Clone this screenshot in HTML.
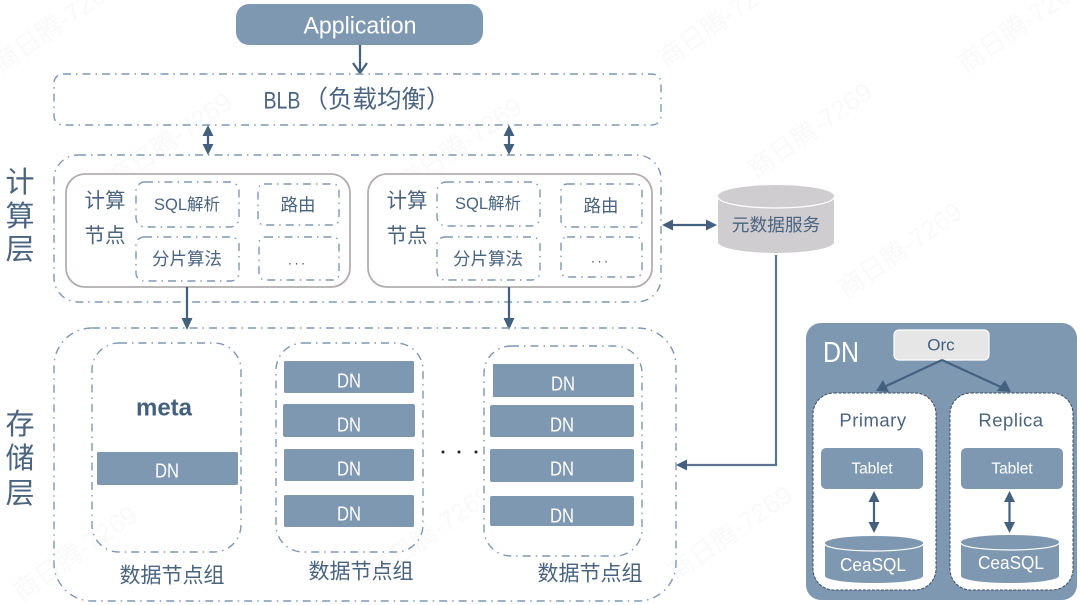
<!DOCTYPE html>
<html><head><meta charset="utf-8">
<style>
html,body{margin:0;padding:0;background:#fff;}
svg{display:block;filter:blur(0.35px);}
text{font-family:"Liberation Sans","Noto Sans CJK SC",sans-serif;text-anchor:middle;dominant-baseline:central;fill:#4a6480;}
.w{fill:#fff;}
.dd{fill:none;stroke:#7f98b2;stroke-width:1.4;stroke-dasharray:8 5 1.5 5;}
.ln{stroke:#44607f;stroke-width:2.2;fill:none;}
.h{fill:#44607f;}
.b{fill:#7f98b2;}
.wm{fill:#f9f9f9;font-size:26px;}
</style></head><body>
<svg width="1080" height="605" viewBox="0 0 1080 605" xmlns="http://www.w3.org/2000/svg">
<rect width="1080" height="605" fill="#fff"/>
<!-- watermarks -->
<text class="wm" transform="translate(55,25) rotate(-35)">商日腾-7269</text>
<text class="wm" transform="translate(720,20) rotate(-35)">商日腾-7269</text>
<text class="wm" transform="translate(1020,25) rotate(-35)">商日腾-7269</text>
<text class="wm" transform="translate(810,130) rotate(-35)">商日腾-7269</text>
<text class="wm" transform="translate(900,250) rotate(-35)">商日腾-7269</text>
<text class="wm" transform="translate(170,140) rotate(-35)">商日腾-7269</text>
<text class="wm" transform="translate(460,145) rotate(-35)">商日腾-7269</text>
<text class="wm" transform="translate(75,553) rotate(-35)">商日腾-7269</text>
<text class="wm" transform="translate(430,533) rotate(-35)">商日腾-7269</text>
<text class="wm" transform="translate(730,533) rotate(-35)">商日腾-7269</text>

<!-- Application -->
<rect x="236" y="4" width="247" height="41" rx="13" class="b"/>
<text x="360" y="26" class="w" font-size="24" textLength="113" lengthAdjust="spacingAndGlyphs">Application</text>
<path class="ln" d="M360 45V73M353 63L360 73L367 63" stroke-width="1.6"/>

<!-- BLB -->
<rect x="54" y="74" width="607" height="51" rx="9" class="dd"/>
<text x="282" y="101" font-size="24" textLength="37" lengthAdjust="spacingAndGlyphs">BLB</text>
<text x="377" y="100" font-size="24.500">（负载均衡）</text>

<!-- BLB to compute arrows -->
<path class="ln" d="M208 133V148M509 133V148"/>
<path class="h" d="M208 125L213.500 136H202.500ZM208 155L213.500 144H202.500ZM509 125L514.500 136H503.500ZM509 155L514.500 144H503.500Z"/>

<!-- compute layer -->
<rect x="54" y="155" width="607" height="147" rx="24" class="dd"/>
<text x="20" y="183" font-size="29">计</text>
<text x="20" y="217" font-size="29">算</text>
<text x="20" y="250" font-size="29">层</text>

<rect x="66" y="174" width="284" height="113" rx="19" fill="#fff" stroke="#b3aeae" stroke-width="1.8"/>
<rect x="368" y="174" width="284" height="113" rx="19" fill="#fff" stroke="#b3aeae" stroke-width="1.8"/>

<text x="105" y="201" font-size="20.500">计算</text>
<text x="105" y="236" font-size="20.500">节点</text>
<rect x="136" y="182" width="103" height="45" rx="9" class="dd"/>
<rect x="258" y="184" width="81" height="41" rx="6" class="dd"/>
<rect x="136" y="237" width="103" height="44" rx="8" class="dd"/>
<rect x="259" y="237" width="80" height="43" rx="6" class="dd"/>
<text x="187" y="205" font-size="16.500">SQL解析</text>
<text x="298" y="205" font-size="17.500">路由</text>
<text x="187" y="259" font-size="17.500">分片算法</text>
<text x="298" y="260" font-size="13" style="fill:#444" letter-spacing="3">...</text>

<text x="407" y="201" font-size="20.500">计算</text>
<text x="407" y="236" font-size="20.500">节点</text>
<rect x="437" y="182" width="103" height="44" rx="9" class="dd"/>
<rect x="561" y="184" width="81" height="43" rx="6" class="dd"/>
<rect x="437" y="237" width="103" height="43" rx="8" class="dd"/>
<rect x="561" y="237" width="81" height="40" rx="6" class="dd"/>
<text x="488" y="204" font-size="16.500">SQL解析</text>
<text x="601" y="206" font-size="17.500">路由</text>
<text x="488" y="259" font-size="17.500">分片算法</text>
<text x="601" y="258" font-size="13" style="fill:#444" letter-spacing="3">...</text>

<!-- compute to storage arrows -->
<path class="ln" d="M187 287V320M509 287V320"/>
<path class="h" d="M187 330L181.500 318H192.500ZM509 330L503.500 318H514.500Z"/>

<!-- metadata cylinder -->
<path d="M718 196V242A58 11 0 0 0 834 242V196Z" fill="#cfcdcf"/>
<ellipse cx="776" cy="196" rx="58" ry="11" fill="#cfcdcf"/>
<path d="M718 197A58 11 0 0 0 834 197" fill="none" stroke="#fff" stroke-width="1.3"/>
<text x="776" y="225" font-size="17.700">元数据服务</text>
<path class="ln" d="M670 225H710"/>
<path class="h" d="M662 225L673 219.500V230.500ZM717 225L706 219.500V230.500Z"/>
<path d="M776 255V465H684" fill="none" stroke="#5e7590" stroke-width="2.200"/>
<path class="h" d="M676 465L687 459.500V470.500Z"/>

<!-- storage layer -->
<rect x="54" y="328" width="622" height="273" rx="38" class="dd"/>
<text x="20" y="425" font-size="29">存</text>
<text x="20" y="459" font-size="29">储</text>
<text x="20" y="494" font-size="29">层</text>

<rect x="92" y="343" width="149" height="209" rx="27" class="dd"/>
<rect x="276" y="343" width="147" height="209" rx="27" class="dd"/>
<rect x="484" y="346" width="158" height="210" rx="27" class="dd"/>

<text x="164" y="408" font-size="24" font-weight="bold" style="fill:#44607f">meta</text>
<rect x="97" y="452" width="141" height="33" rx="1.500" class="b"/>
<text x="167" y="471" class="w" font-size="20.500" textLength="24" lengthAdjust="spacingAndGlyphs">DN</text>

<rect x="284" y="361" width="130" height="32" rx="1.500" class="b"/>
<rect x="283" y="404" width="132" height="33" rx="2" class="b"/>
<rect x="284" y="449" width="130" height="32" rx="1.500" class="b"/>
<rect x="284" y="495" width="130" height="32" rx="1.500" class="b"/>
<text x="349" y="381" class="w" font-size="20.500" textLength="24" lengthAdjust="spacingAndGlyphs">DN</text>
<text x="349" y="425" class="w" font-size="20.500" textLength="24" lengthAdjust="spacingAndGlyphs">DN</text>
<text x="349" y="469" class="w" font-size="20.500" textLength="24" lengthAdjust="spacingAndGlyphs">DN</text>
<text x="349" y="514" class="w" font-size="20.500" textLength="24" lengthAdjust="spacingAndGlyphs">DN</text>

<rect x="493" y="364" width="141" height="33" class="b"/>
<rect x="490" y="405" width="144" height="32" rx="2" class="b"/>
<rect x="490" y="449" width="144" height="33" rx="2" class="b"/>
<rect x="490" y="496" width="144" height="30" rx="2" class="b"/>
<text x="563" y="384" class="w" font-size="20.500" textLength="24" lengthAdjust="spacingAndGlyphs">DN</text>
<text x="562" y="425" class="w" font-size="20.500" textLength="24" lengthAdjust="spacingAndGlyphs">DN</text>
<text x="562" y="469" class="w" font-size="20.500" textLength="24" lengthAdjust="spacingAndGlyphs">DN</text>
<text x="562" y="516" class="w" font-size="20.500" textLength="24" lengthAdjust="spacingAndGlyphs">DN</text>

<circle cx="443" cy="452" r="1.500" fill="#222"/>
<circle cx="459" cy="452" r="1.500" fill="#222"/>
<circle cx="476" cy="452" r="1.500" fill="#222"/>

<text x="172" y="576" font-size="21">数据节点组</text>
<text x="361" y="572" font-size="21">数据节点组</text>
<text x="590" y="574" font-size="21">数据节点组</text>

<!-- DN panel -->
<rect x="806" y="323" width="271" height="277" rx="15" class="b"/>
<text x="841" y="353" class="w" font-size="29" textLength="36" lengthAdjust="spacingAndGlyphs">DN</text>
<rect x="894" y="330" width="95" height="30" rx="5" fill="#e6e6e6" stroke="#fff" stroke-width="1.200"/>
<text x="941" y="345" font-size="17" style="fill:#44607f">Orc</text>
<path class="ln" d="M942 360L884 387M942 360L1003 388" stroke-width="1.700"/>
<path class="h" d="M876 391L883 380L889 392ZM1011 392L1005 380L997 391Z"/>

<rect x="813" y="393" width="123" height="197" rx="21" fill="#fff" stroke="#3a4a5c" stroke-width="1" stroke-dasharray="3 1.500"/>
<rect x="950" y="393" width="123" height="197" rx="21" fill="#fff" stroke="#3a4a5c" stroke-width="1" stroke-dasharray="3 1.500"/>
<text x="873" y="420" font-size="18.500" letter-spacing="0.500">Primary</text>
<text x="1011" y="420" font-size="18.500" letter-spacing="0.500">Replica</text>

<rect x="821" y="448" width="102" height="41" rx="5" class="b"/>
<rect x="961" y="448" width="102" height="41" rx="5" class="b"/>
<text x="872" y="469" class="w" font-size="15.500">Tablet</text>
<text x="1012" y="469" class="w" font-size="15.500">Tablet</text>

<path class="ln" d="M874 498V526M1009.500 498V526" stroke-width="2"/>
<path class="h" d="M874 491L879.500 502H868.500ZM874 533L879.500 522H868.500ZM1009.500 491L1015 502H1004ZM1009.500 533L1015 522H1004Z"/>

<path d="M825 543V576A49 7 0 0 0 923 576V543Z" class="b"/>
<ellipse cx="874" cy="543" rx="49" ry="7" class="b"/>
<path d="M825 544A49 7 0 0 0 923 544" fill="none" stroke="#fff" stroke-width="1.200"/>
<text x="873" y="565" class="w" font-size="18" textLength="66" lengthAdjust="spacingAndGlyphs">CeaSQL</text>

<path d="M961 542V576A49 7 0 0 0 1059 576V542Z" class="b"/>
<ellipse cx="1010" cy="542" rx="49" ry="7" class="b"/>
<path d="M961 543A49 7 0 0 0 1059 543" fill="none" stroke="#fff" stroke-width="1.200"/>
<text x="1011" y="563" class="w" font-size="18" textLength="66" lengthAdjust="spacingAndGlyphs">CeaSQL</text>
</svg>
</body></html>
